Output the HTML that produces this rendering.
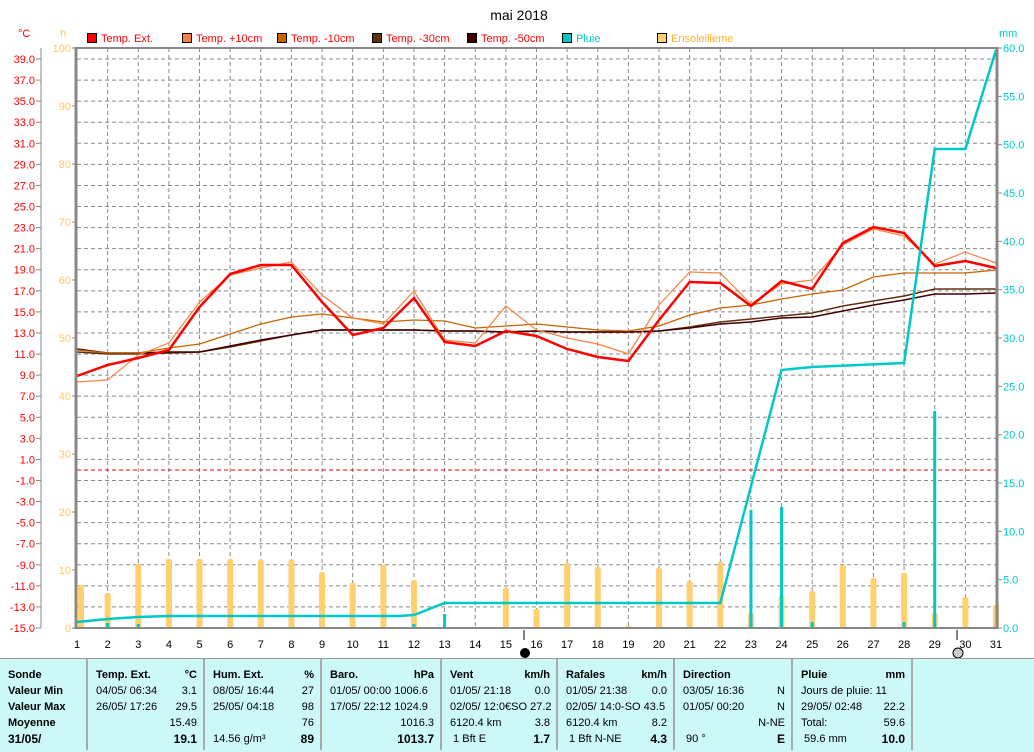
<!DOCTYPE html>
<html><head><meta charset="utf-8"><style>
body{margin:0;background:#fff;width:1034px;height:751px;overflow:hidden;font-family:"Liberation Sans",sans-serif}
svg{position:absolute;left:0;top:0}
#tb{position:absolute;left:0;top:658px;width:1034px;height:93px;background:#ccf8f8;border-top:1px solid #999}
.c{position:absolute;top:0;height:91px;border-right:2px solid #aaa;font-size:11px;line-height:16px;padding-top:8px;box-sizing:border-box}
.r{display:flex;justify-content:space-between;padding:0 6px 0 8px;white-space:nowrap}
.b{font-weight:bold}
</style></head><body>
<svg id="s" width="1034" height="658" font-family="Liberation Sans, sans-serif"></svg>
<div id="tb">
<div class="c" style="left:0;width:88px"><div class="r b"><span>Sonde</span></div><div class="r b"><span>Valeur Min</span></div><div class="r b"><span>Valeur Max</span></div><div class="r b"><span>Moyenne</span></div><div class="r b" style="font-size:12px"><span>31/05/</span></div></div>
<div class="c" style="left:88px;width:117px"><div class="r b"><span>Temp. Ext.</span><span>°C</span></div><div class="r"><span>04/05/ 06:34</span><span>3.1</span></div><div class="r"><span>26/05/ 17:26</span><span>29.5</span></div><div class="r"><span></span><span>15.49</span></div><div class="r b" style="font-size:12px"><span></span><span>19.1</span></div></div>
<div class="c" style="left:205px;width:117px"><div class="r b"><span>Hum. Ext.</span><span>%</span></div><div class="r"><span>08/05/ 16:44</span><span>27</span></div><div class="r"><span>25/05/ 04:18</span><span>98</span></div><div class="r"><span></span><span>76</span></div><div class="r"><span>14.56 g/m³</span><b style="font-size:12px">89</b></div></div>
<div class="c" style="left:322px;width:120px"><div class="r b"><span>Baro.</span><span>hPa</span></div><div class="r"><span>01/05/ 00:00 1006.6</span></div><div class="r"><span>17/05/ 22:12 1024.9</span></div><div class="r"><span></span><span>1016.3</span></div><div class="r b" style="font-size:12px"><span></span><span>1013.7</span></div></div>
<div class="c" style="left:442px;width:116px"><div class="r b"><span>Vent</span><span>km/h</span></div><div class="r"><span>01/05/ 21:18</span><span>0.0</span></div><div class="r"><span>02/05/ 12:0€SO 27.2</span></div><div class="r"><span>6120.4 km</span><span>3.8</span></div><div class="r"><span>&nbsp;1 Bft E</span><b style="font-size:12px">1.7</b></div></div>
<div class="c" style="left:558px;width:117px"><div class="r b"><span>Rafales</span><span>km/h</span></div><div class="r"><span>01/05/ 21:38</span><span>0.0</span></div><div class="r"><span>02/05/ 14:0-SO 43.5</span></div><div class="r"><span>6120.4 km</span><span>8.2</span></div><div class="r"><span>&nbsp;1 Bft N-NE</span><b style="font-size:12px">4.3</b></div></div>
<div class="c" style="left:675px;width:118px"><div class="r b"><span>Direction</span></div><div class="r"><span>03/05/ 16:36</span><span>N</span></div><div class="r"><span>01/05/ 00:20</span><span>N</span></div><div class="r"><span></span><span>N-NE</span></div><div class="r"><span>&nbsp;90 °</span><b style="font-size:12px">E</b></div></div>
<div class="c" style="left:793px;width:120px"><div class="r b"><span>Pluie</span><span>mm</span></div><div class="r"><span>Jours de pluie: 11</span></div><div class="r"><span>29/05/ 02:48</span><span>22.2</span></div><div class="r"><span>Total:</span><span>59.6</span></div><div class="r"><span>&nbsp;59.6 mm</span><b style="font-size:12px">10.0</b></div></div>
<div class="c" style="left:913px;width:121px;border-right:none"></div>
</div>
<script>
var s='',X=function(d){return 77+(d-1)*30.633};
var T=48,B=628,L=77,R=997;
for(var k=0;k<=27;k++){var y=59+k*21.074;s+='<line x1="'+L+'" x2="'+R+'" y1="'+y+'" y2="'+y+'" stroke="#888" stroke-dasharray="4,3"/>';
s+='<line x1="36" x2="41" y1="'+y+'" y2="'+y+'" stroke="#888"/>';
s+='<text x="35" y="'+(y+4)+'" font-size="11" fill="#f00" text-anchor="end">'+(39-2*k).toFixed(1)+'</text>';}
for(var d=2;d<=30;d++)s+='<line x1="'+X(d)+'" x2="'+X(d)+'" y1="'+T+'" y2="'+B+'" stroke="#888" stroke-dasharray="4,3"/>';
s+='<line x1="'+L+'" x2="'+R+'" y1="470" y2="470" stroke="#e00" stroke-dasharray="4,3"/>';
s+='<line x1="41" x2="41" y1="48" y2="628" stroke="#888"/>';
for(var h=0;h<=10;h++){var y=628-h*58;s+='<line x1="72" x2="77" y1="'+y+'" y2="'+y+'" stroke="#888"/><text x="71" y="'+(y+4)+'" font-size="11" fill="#ffc860" text-anchor="end">'+(h*10)+'</text>';}
for(var m=0;m<=12;m++){var y=628-m*48.33;s+='<line x1="997" x2="1002" y1="'+y+'" y2="'+y+'" stroke="#888"/><text x="1003" y="'+(y+4)+'" font-size="11" fill="#00c8c8">'+(m*5).toFixed(1)+'</text>';}
var sun=[585,593,564,559,559,559,560,560,572,583,565,580,627,627,588,609,563,567,626,568,581,562,613,595,591,565,578,573,613,597,605];
sun.forEach(function(t,i){var x=X(i+1)+(i==0?1:-3);s+='<rect x="'+x+'" y="'+t+'" width="6" height="'+(B-t)+'" rx="2" fill="#ffd070"/>';});
[[2,623],[3,624],[12,624],[13,614],[23,510],[24,507],[25,622],[28,622],[29,411]].forEach(function(r){s+='<rect x="'+(X(r[0])-1.5)+'" y="'+r[1]+'" width="3" height="'+(B-r[1])+'" fill="#00c8c8"/>';});
function pl(a,c,w){return '<polyline fill="none" stroke="'+c+'" stroke-width="'+w+'" points="'+a.map(function(v,i){return X(i+1)+','+v}).join(' ')+'"/>';}
s+=pl([352,354,354,353,352,347,341,335,330,330,330,330,331,331,332,331,332,332,332,331,327,322,319,316,313,306,301,296,289,289,289],'#603010',1.5);
s+=pl([349,353,353,352,352,346,340,335,330,330,330,330,331,331,332,331,332,332,332,331,328,324,322,318,317,311,305,300,294,294,293],'#400000',1.5);
s+=pl([350,353,353,348,344,334,324,317,314,318,322,320,321,328,326,324,327,330,331,326,315,308,305,299,294,290,277,273,273,273,270],'#c86400',1.3);
s+=pl([382,380,355,343,302,275,268,262,295,318,324,291,340,343,306,330,338,344,354,305,272,273,304,284,280,245,229,236,264,252,263],'#ff8040',1.2);
s+=pl([376,365,358,350,307,274,265,265,302,335,328,298,342,346,331,336,349,357,361,320,282,283,306,281,289,243,227,233,266,261,268],'#f00',2.5);
s+='<polyline fill="none" stroke="#00c8c8" stroke-width="2.5" points="'+[[1,622],[2,619],[3,617],[4,616],[11.5,616],[12,615],[13,603],[22,603],[24,370],[25,367],[28,363],[29,149],[30,149],[31,50]].map(function(p){return X(p[0])+','+p[1]}).join(' ')+'"/>';
s+='<line x1="76" x2="76" y1="47" y2="629" stroke="#888" stroke-width="3"/><line x1="997" x2="997" y1="47" y2="629" stroke="#888" stroke-width="3"/>';
s+='<line x1="76" x2="998" y1="48" y2="48" stroke="#888" stroke-width="2"/><line x1="76" x2="998" y1="628" y2="628" stroke="#888" stroke-width="2"/>';
for(var d=1;d<=31;d++)s+='<text x="'+X(d)+'" y="648" font-size="11" text-anchor="middle">'+d+'</text>';
s+='<line x1="524" x2="524" y1="630" y2="640" stroke="#000"/><circle cx="525" cy="653" r="5" fill="#000"/>';
s+='<line x1="957" x2="957" y1="630" y2="640" stroke="#000"/><circle cx="958" cy="653" r="5" fill="#ccc" stroke="#000"/>';
s+='<text x="519" y="20" font-size="14" text-anchor="middle">mai 2018</text>';
s+='<text x="18" y="37" font-size="11" fill="#f00">°C</text><text x="60" y="37" font-size="11" fill="#ffc860">h</text><text x="999" y="37" font-size="11" fill="#00c8c8">mm</text>';
[[87,'#f00','Temp. Ext.','#f00'],[182,'#ff8040','Temp. +10cm','#f00'],[277,'#c86400','Temp. -10cm','#f00'],[372,'#603010','Temp. -30cm','#f00'],[467,'#400000','Temp. -50cm','#f00'],[562,'#00c8c8','Pluie','#00c8c8'],[657,'#ffd070','Ensoleilleme','#ffb030']].forEach(function(l){
s+='<rect x="'+(l[0]+0.5)+'" y="33.5" width="9" height="9" fill="'+l[1]+'" stroke="#000"/><text x="'+(l[0]+14)+'" y="42" font-size="11" fill="'+l[3]+'">'+l[2]+'</text>';});
document.getElementById('s').innerHTML=s;
</script>
</body></html>
